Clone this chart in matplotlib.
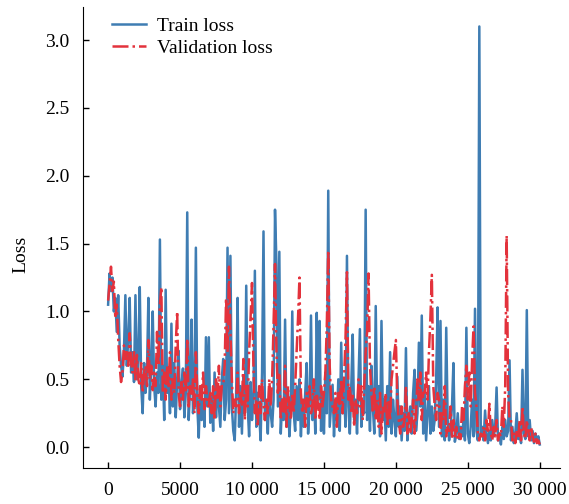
import matplotlib
matplotlib.use("Agg")
import matplotlib.pyplot as plt
from matplotlib.ticker import FuncFormatter
import numpy as np

step = 100
train_loss = [
    1.05, 1.28, 1.15, 1.25, 1.00, 1.10, 0.85, 1.12, 0.75, 0.60,
    0.52, 0.70, 1.12, 0.60, 0.80, 1.10, 0.55, 0.70, 0.48, 1.12,
    0.50, 0.65, 1.18, 0.45, 0.25, 0.62, 0.40, 0.55, 1.10, 0.35,
    0.60, 1.00, 0.45, 0.30, 0.55, 0.40, 1.53, 0.35, 0.60, 0.20,
    1.16, 0.40, 0.55, 0.25, 0.91, 0.30, 0.62, 0.22, 0.50, 0.71,
    0.28, 0.45, 0.58, 0.22, 0.40, 1.73, 0.20, 0.45, 0.94, 0.25,
    0.40, 1.47, 0.30, 0.07, 0.45, 0.20, 0.35, 0.15, 0.81, 0.30,
    0.81, 0.18, 0.38, 0.12, 0.55, 0.22, 0.45, 0.30, 0.15, 0.50,
    0.65, 0.20, 0.35, 1.47, 0.25, 1.41, 0.30, 0.12, 0.05, 0.40,
    1.10, 0.15, 0.45, 0.10, 0.52, 0.25, 1.19, 0.30, 0.08, 0.48,
    0.20, 0.35, 1.30, 0.15, 0.40, 0.25, 0.05, 0.55, 1.59, 0.20,
    0.30, 0.10, 0.44, 0.25, 0.15, 0.35, 1.75, 1.35, 0.30, 1.44,
    0.10, 0.35, 0.20, 0.94, 0.15, 0.40, 0.08, 0.30, 1.00, 0.25,
    0.12, 0.45, 0.20, 0.50, 0.08, 0.35, 0.15, 0.40, 0.62, 0.10,
    0.30, 0.97, 0.20, 0.45, 0.10, 0.99, 0.35, 0.93, 0.12, 0.40,
    0.10, 0.55, 0.25, 1.89, 0.15, 0.30, 0.46, 0.08, 0.35, 0.20,
    0.50, 0.12, 0.77, 0.25, 0.40, 0.15, 1.41, 0.30, 0.10, 0.45,
    0.83, 0.20, 0.35, 0.10, 0.50, 0.87, 0.15, 0.30, 0.25, 1.75,
    0.20, 0.45, 0.12, 0.60, 0.30, 0.10, 1.04, 0.25, 0.45, 0.08,
    0.93, 0.20, 0.35, 0.05, 0.45, 0.15, 0.70, 0.10, 0.35, 0.20,
    0.08, 0.52, 0.15, 0.30, 0.05, 0.25, 0.12, 0.73, 0.05, 0.20,
    0.30, 0.10, 0.40, 0.57, 0.12, 0.25, 0.77, 0.30, 0.97, 0.10,
    0.40, 0.05, 0.25, 0.45, 0.10, 0.30, 0.12, 0.20, 0.50, 1.03,
    0.15, 0.93, 0.08, 0.35, 0.05, 0.88, 0.20, 0.05, 0.15, 0.30,
    0.62, 0.04, 0.10, 0.25, 0.06, 0.15, 0.08, 0.20, 0.05, 0.88,
    0.10, 0.03, 0.15, 0.35, 0.08, 1.02, 0.12, 0.05, 3.10, 0.08,
    0.15, 0.05, 0.27, 0.10, 0.03, 0.12, 0.05, 0.20, 0.08, 0.15,
    0.44, 0.05, 0.10, 0.02, 0.15, 0.06, 0.20, 0.08, 0.12, 0.64,
    0.05, 0.15, 0.03, 0.10, 0.25, 0.06, 0.12, 0.03, 0.57, 0.10,
    0.06, 1.01, 0.08, 0.20, 0.05, 0.12, 0.03, 0.10, 0.05, 0.08,
    0.02,
]
val_loss = [
    1.08, 1.20, 1.33, 1.15, 1.22, 0.95, 1.05, 0.80, 0.60, 0.48,
    0.55, 0.75, 0.65, 0.70, 0.60, 0.84, 0.62, 0.55, 0.70, 0.50,
    0.68, 0.50, 0.45, 0.62, 0.40, 0.55, 0.60, 0.45, 0.79, 0.50,
    0.60, 0.42, 0.55, 0.45, 0.85, 0.60, 1.05, 1.18, 0.40, 0.55,
    0.35, 0.60, 0.45, 0.70, 0.35, 0.50, 0.40, 0.75, 1.00, 0.40,
    0.30, 0.48, 0.35, 0.55, 0.40, 0.80, 0.30, 0.45, 0.35, 0.50,
    0.25, 0.70, 0.40, 0.25, 0.45, 0.35, 0.55, 0.28, 0.45, 0.35,
    0.30, 0.40, 0.25, 0.45, 0.20, 0.50, 0.35, 0.60, 0.30, 0.45,
    0.45, 0.60, 1.10, 0.70, 1.33, 0.85, 0.50, 0.25, 0.35, 0.30,
    0.55, 0.25, 0.40, 0.30, 0.65, 0.20, 0.45, 0.30, 0.70, 0.95,
    1.21, 0.60, 0.25, 0.35, 0.15, 0.45, 0.25, 0.50, 0.30, 0.20,
    0.35, 0.25, 0.50, 0.30, 0.50, 0.90, 1.35, 0.70, 0.40, 0.55,
    0.20, 0.35, 0.25, 0.60, 0.15, 0.45, 0.30, 0.20, 0.40, 0.25,
    0.45, 0.70, 0.95, 1.25, 0.40, 0.25, 0.35, 0.15, 0.40, 0.30,
    0.45, 0.25, 0.30, 0.50, 0.20, 0.40, 0.30, 0.20, 0.45, 0.30,
    0.40, 0.55, 0.90, 1.45, 0.60, 0.35, 0.30, 0.25, 0.40, 0.15,
    0.40, 0.30, 0.50, 0.25, 0.50, 0.80, 1.29, 0.35, 0.45, 0.25,
    0.40, 0.15, 0.35, 0.25, 0.50, 0.30, 0.45, 0.20, 0.45, 0.70,
    0.85, 1.28, 0.60, 0.40, 0.25, 0.45, 0.20, 0.35, 0.15, 0.40,
    0.10, 0.30, 0.25, 0.40, 0.15, 0.35, 0.20, 0.50, 0.60, 0.70,
    0.79, 0.35, 0.20, 0.10, 0.30, 0.15, 0.20, 0.45, 0.10, 0.25,
    0.10, 0.20, 0.35, 0.10, 0.25, 0.50, 0.35, 0.55, 0.20, 0.40,
    0.40, 0.55, 0.35, 0.70, 0.95, 1.27, 0.45, 0.30, 0.20, 0.40,
    0.35, 0.10, 0.25, 0.20, 0.45, 0.08, 0.15, 0.12, 0.30, 0.06,
    0.20, 0.08, 0.15, 0.05, 0.10, 0.06, 0.30, 0.20, 0.45, 0.60,
    0.35, 0.55, 0.30, 0.65, 0.89, 0.40, 0.30, 0.10, 0.05, 0.10,
    0.08, 0.15, 0.05, 0.20, 0.12, 0.32, 0.10, 0.05, 0.15, 0.08,
    0.20, 0.05, 0.10, 0.08, 0.30, 0.15, 0.45, 1.56, 0.40, 0.20,
    0.20, 0.05, 0.10, 0.03, 0.12, 0.06, 0.20, 0.05, 0.30, 0.10,
    0.06, 0.20, 0.12, 0.05, 0.15, 0.08, 0.04, 0.10, 0.03, 0.05,
    0.02,
]
iters = np.arange(len(train_loss)) * step

plt.rcParams['font.family'] = ['Liberation Serif', 'DejaVu Serif']
plt.rcParams['font.size'] = 14


def fmt_iter(v, pos):
    v = int(round(v))
    if abs(v) >= 10000:
        return f"{v:,}".replace(",", " ")
    return str(v)


fig = plt.figure(figsize=(5.69, 5.04), dpi=100)
ax = fig.add_axes([0.146, 0.071, 0.838, 0.915])

ax.plot(iters, train_loss, color='#3f7db3', lw=1.8, label='Train loss')
ax.plot(iters, val_loss, color='#e3323c', lw=1.8, ls='-.', label='Validation loss')

ax.set_xlim(-1740, 31400)
ax.set_ylim(-0.155, 3.243)
ax.set_xticks([0, 5000, 10000, 15000, 20000, 25000, 30000])
ax.set_yticks([0.0, 0.5, 1.0, 1.5, 2.0, 2.5, 3.0])
ax.xaxis.set_major_formatter(FuncFormatter(fmt_iter))
ax.yaxis.set_major_formatter(FuncFormatter(lambda v, p: f"{v:.1f}"))
ax.tick_params(direction='in', length=4.5, width=1, pad=10, labelsize=14)
ax.set_ylabel('Loss')
ax.yaxis.set_label_coords(-0.112, 0.464)

ax.spines['top'].set_visible(False)
ax.spines['right'].set_visible(False)

ax.legend(loc='upper left', bbox_to_anchor=(0.025, 1.015), frameon=False,
          handlelength=1.7, handletextpad=0.6, labelspacing=0.2)

fig.savefig('out.png', dpi=100)
